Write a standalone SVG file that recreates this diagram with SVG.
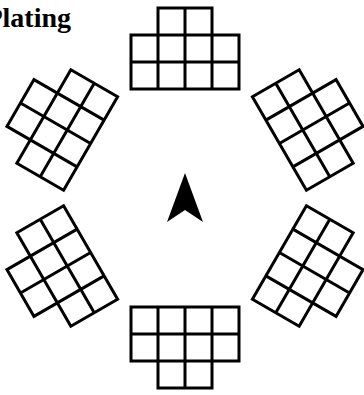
<svg xmlns="http://www.w3.org/2000/svg" xmlns:xlink="http://www.w3.org/1999/xlink" width="364" height="395" viewBox="0 0 364 395">
  <style>
    .grid { fill: none; stroke: #000; stroke-width: 3; stroke-linecap: square; stroke-linejoin: miter; }
    .title { font-family: "Liberation Serif", "DejaVu Serif", serif; font-weight: bold; font-size: 28px; fill: #000; }
  </style>
  <defs>
    <path id="tile" class="grid" d="M-54,-163H54V-109H-54Z M-54,-136H54 M-27,-190V-109 M0,-190V-109 M27,-190V-109 M-27,-190H27"/>
  </defs>
  <rect width="364" height="395" fill="#fff"/>
  <text class="title" x="71" y="27" text-anchor="end">Plating</text>
  <g transform="translate(185,198)">
    <g id="block-top"><use xlink:href="#tile" href="#tile"/></g>
    <g id="block-upper-right" transform="rotate(60)"><use xlink:href="#tile" href="#tile"/></g>
    <g id="block-lower-right" transform="rotate(120)"><use xlink:href="#tile" href="#tile"/></g>
    <g id="block-bottom" transform="rotate(180)"><use xlink:href="#tile" href="#tile"/></g>
    <g id="block-lower-left" transform="rotate(240)"><use xlink:href="#tile" href="#tile"/></g>
    <g id="block-upper-left" transform="rotate(300)"><use xlink:href="#tile" href="#tile"/></g>
  </g>
  <g id="north-arrow">
    <path d="M185,173 L167,222 L185,210 L203,222 Z" fill="#000"/>
  </g>
</svg>
